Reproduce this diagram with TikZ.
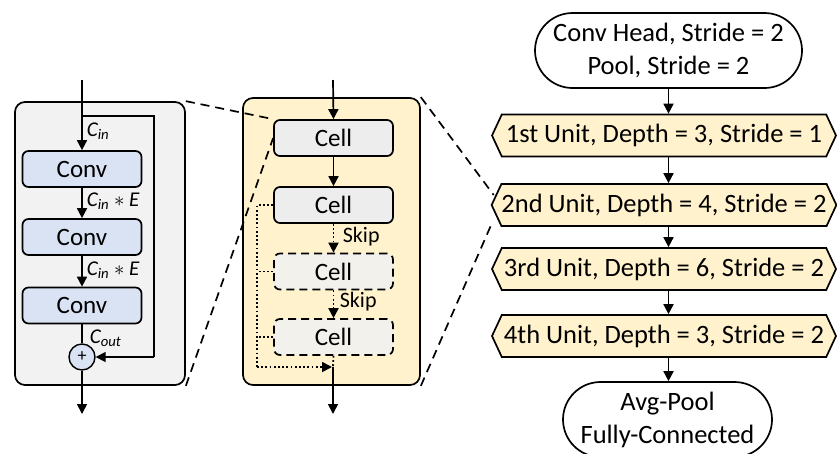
\documentclass[tikz,border=0pt]{standalone}
\usepackage{fontspec}
\setmainfont{Carlito}
\usetikzlibrary{arrows.meta,shapes.misc,shapes.symbols,calc}
\definecolor{panelgray}{HTML}{F2F2F2}
\definecolor{convblue}{HTML}{DAE3F3}
\definecolor{paneyellow}{HTML}{FFF2CC}
\definecolor{cellgray}{HTML}{EDEDED}
\definecolor{ghostgray}{HTML}{F3F1EB}
\begin{document}
\begin{tikzpicture}[x=1pt,y=-1pt,
  line width=1.7pt,
  arr/.style={-{Triangle[length=10pt,width=10pt]}},
  panel/.style={draw, rounded corners=10pt, inner sep=0pt},
  convbox/.style={draw, fill=convblue, rounded corners=6pt, minimum width=119pt, minimum height=36pt, inner sep=0pt, font=\fontsize{25}{28}\selectfont},
  cellbox/.style={draw, fill=cellgray, rounded corners=6pt, minimum width=119pt, minimum height=36pt, inner sep=0pt, font=\fontsize{25}{28}\selectfont},
  ghostbox/.style={cellbox, fill=ghostgray, dash pattern=on 8pt off 5pt},
  hexbox/.style={draw, fill=paneyellow, signal, signal to=west and east, signal pointer angle=130, minimum width=344pt, minimum height=42pt, inner sep=0pt, font=\fontsize{26.5}{30}\selectfont},
  termbox/.style={draw, rounded rectangle, inner sep=0pt, align=center, font=\fontsize{26.5}{33}\selectfont},
  lbl/.style={font=\fontsize{21}{24}\selectfont\itshape, anchor=west, inner sep=1pt},
  skiplbl/.style={font=\fontsize{22}{24}\selectfont, anchor=west, inner sep=1pt},
  conn/.style={dash pattern=on 9pt off 6pt},
  dot/.style={line width=1.8pt, dash pattern=on 1.8pt off 2.4pt}
]
\useasboundingbox (0,0) rectangle (837,453);

% ---------- left panel ----------
\node[panel, fill=panelgray, minimum width=170pt, minimum height=283pt] (lp) at (100,243.5) {};
\node[convbox] (c1) at (82,169) {Conv};
\node[convbox] (c2) at (82,237) {Conv};
\node[convbox] (c3) at (82,305.5) {Conv};
\node[draw, circle, fill=convblue, minimum size=26pt, inner sep=0pt, line width=1.4pt, font=\fontsize{18}{18}\selectfont] (plus) at (82,357) {+};
\coordinate (lin) at (82,80);
\coordinate (lsplit) at (82,116);
\coordinate (lr1) at (154,116);
\coordinate (lr2) at (154,357);
\coordinate (lout) at (82,414);
\draw[arr] (lin) -- (c1.north);
\draw (lsplit) -- (lr1) -- (lr2);
\draw[arr] (lr2) -- (plus.east);
\draw[arr] (c1.south) -- (c2.north);
\draw[arr] (c2.south) -- (c3.north);
\draw (c3.south) -- (plus.north);
\draw[arr] (plus.south) -- (lout);
\node[lbl] (l1) at (85,131) {C\textsubscript{in}};
\node[lbl] (l2) at (85,201) {C\textsubscript{in} $\ast$ E};
\node[lbl] (l3) at (85,270) {C\textsubscript{in} $\ast$ E};
\node[lbl] (l4) at (88,338) {C\textsubscript{out}};

% ---------- middle panel ----------
\node[panel, fill=paneyellow, minimum width=177pt, minimum height=287pt] (mp) at (331.5,241.5) {};
\node[cellbox] (k1) at (333.5,138) {Cell};
\node[cellbox] (k2) at (333.5,205) {Cell};
\node[ghostbox] (k3) at (333.5,271.5) {Cell};
\node[ghostbox] (k4) at (333.5,337) {Cell};
\coordinate (min) at (333,80);
\coordinate (mmerge) at (333,367);
\coordinate (mout) at (333,414);
\coordinate (b2) at (257,205);
\coordinate (b3) at (257,271.5);
\coordinate (b4) at (257,337);
\coordinate (bb) at (257,367);
\draw[arr] (min) -- (k1.north);
\draw[arr] (k1.south) -- (k2.north);
\draw[arr,dot] (k2.south) -- (k3.north);
\draw[arr,dot] (k3.south) -- (k4.north);
\draw[dot] (k4.south) -- (mmerge);
\draw[arr] (mmerge) -- (mout);
\draw[dot] (k2.west) -- (b2) -- (bb);
\draw[arr,dot] (bb) -- ($(mmerge)+(-1,0)$);
\draw[dot] (k3.west) -- (b3);
\draw[dot] (k4.west) -- (b4);
\node[skiplbl] (s1) at (341,237) {Skip};
\node[skiplbl] (s2) at (338,302) {Skip};

% ---------- right column ----------
\node[termbox, minimum width=267pt, minimum height=75pt] (t1) at (668.5,50.5) {Conv Head, Stride = 2\\Pool, Stride = 2};
\node[hexbox] (h1) at (664,135.5) {1st Unit, Depth = 3, Stride = 1};
\node[hexbox] (h2) at (664,205) {2nd Unit, Depth = 4, Stride = 2};
\node[hexbox] (h3) at (664,269) {3rd Unit, Depth = 6, Stride = 2};
\node[hexbox] (h4) at (664,336) {4th Unit, Depth = 3, Stride = 2};
\node[termbox, minimum width=209pt, minimum height=75pt] (t2) at (667.5,419.5) {Avg-Pool\\Fully-Connected};
\draw[arr] (t1.south) -- (t1.south |- h1.north);
\draw[arr] (t1.south |- h1.south) -- (t1.south |- h2.north);
\draw[arr] (t1.south |- h2.south) -- (t1.south |- h3.north);
\draw[arr] (t1.south |- h3.south) -- (t1.south |- h4.north);
\draw[arr] (t1.south |- h4.south) -- (t1.south |- t2.north);

% ---------- zoom connectors ----------
\draw[conn] (lp.north east) -- (k1.north west);
\draw[conn] (lp.south east) -- (k1.west);
\draw[conn] (mp.north east) -- ($(h2.west)+(3,-10)$);
\draw[conn] (mp.south east) -- ($(h2.west)+(0,21)$);
\end{tikzpicture}
\end{document}
